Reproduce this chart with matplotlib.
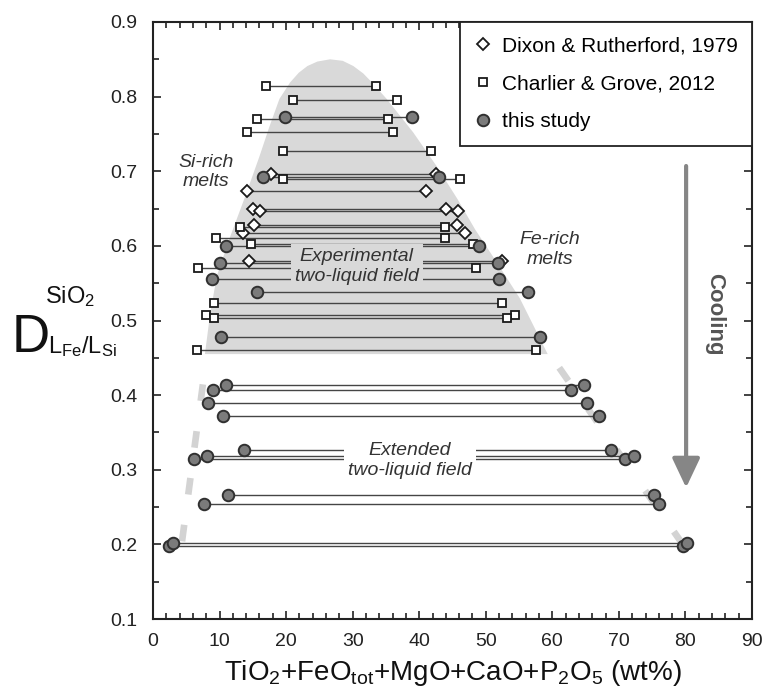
import matplotlib
matplotlib.use('Agg')
import matplotlib.pyplot as plt
from matplotlib.lines import Line2D
from matplotlib.patches import FancyArrowPatch, Polygon
from matplotlib.ticker import MultipleLocator

plt.rcParams['font.family'] = ['Liberation Sans', 'DejaVu Sans']
plt.rcParams['mathtext.fontset'] = 'custom'
plt.rcParams['mathtext.rm'] = 'Liberation Sans'
plt.rcParams['mathtext.it'] = 'Liberation Sans:italic'
plt.rcParams['mathtext.bf'] = 'Liberation Sans:bold'
plt.rcParams['lines.scale_dashes'] = False

# ---------------- data ----------------
# Dixon & Rutherford, 1979 (diamonds): Si-rich end, Fe-rich end, D value
dixon_si = [17.7, 14.1, 15.0, 16.1, 15.2, 13.5, 14.4]
dixon_fe = [42.5, 41.0, 44.0, 45.9, 45.7, 46.9, 52.5]
dixon_d = [0.696, 0.673, 0.650, 0.647, 0.628, 0.617, 0.580]

# Charlier & Grove, 2012 (squares)
charlier_si = [17.0, 21.0, 15.6, 14.1, 19.5, 19.5, 13.1, 9.4, 14.7, 6.8, 9.1, 8.0, 9.2, 6.6]
charlier_fe = [33.5, 36.7, 35.3, 36.1, 41.8, 46.1, 43.9, 43.9, 48.1, 48.6, 52.4, 54.4, 53.2, 57.5]
charlier_d = [0.814, 0.795, 0.770, 0.753, 0.727, 0.689, 0.625, 0.610, 0.603, 0.571, 0.523, 0.507, 0.503, 0.461]

# this study (circles)
study_si = [19.8, 16.6, 11.0, 10.1, 8.9, 15.6, 10.2, 11.0, 9.0, 8.3, 10.5, 6.1, 8.1, 13.7, 11.2, 7.7, 2.4, 3.0]
study_fe = [38.9, 42.9, 49.0, 51.8, 52.0, 56.4, 58.2, 64.8, 62.8, 65.2, 67.0, 70.9, 72.2, 68.8, 75.3, 76.0, 79.7, 80.2]
study_d = [0.773, 0.692, 0.600, 0.577, 0.555, 0.538, 0.478, 0.414, 0.407, 0.389, 0.372, 0.315, 0.318, 0.327, 0.266, 0.254, 0.198, 0.2025]

# experimental two-liquid field outline
field_x = [7.8, 8.6, 9.6, 11.5, 13.8, 16.0, 17.5, 19.0, 20.6, 21.9, 23.2, 24.7, 26.6,
           28.5, 30.1, 31.6, 32.9, 35.1, 39.1, 42.6, 45.8, 48.4, 51.5, 55.1, 59.3]
field_y = [0.455, 0.51, 0.56, 0.61, 0.665, 0.72, 0.76, 0.797, 0.819, 0.832, 0.841, 0.847,
           0.850, 0.848, 0.841, 0.831, 0.819, 0.797, 0.752, 0.707, 0.662, 0.622, 0.58,
           0.53, 0.455]

# extended field boundaries (dashed)
ext_left_x = [8.1, 4.3]
ext_left_y = [0.455, 0.20]
ext_right_x = [59.6, 79.6]
ext_right_y = [0.455, 0.20]

# cooling arrow
arrow_x = 80.1
arrow_top = 0.707
arrow_tip = 0.276

legend_labels = ['Dixon & Rutherford, 1979', 'Charlier & Grove, 2012', 'this study']

# ---------------- figure ----------------
W, H = 763, 698
fig = plt.figure(figsize=(W / 100, H / 100), dpi=100)
ax = fig.add_axes([153 / W, 1 - 619 / H, (752 - 153) / W, (619 - 22) / H])
ax.set_xlim(0, 90)
ax.set_ylim(0.1, 0.9)

field_color = '#d9d9d9'
ax.add_patch(Polygon(list(zip(field_x, field_y)), closed=True, fc=field_color,
                     ec='none', zorder=0))

ax.plot(ext_left_x, ext_left_y, color='#d3d3d3', lw=4.8, dash_capstyle='butt',
        linestyle=(12, (12, 22)), zorder=1)
ax.plot(ext_right_x, ext_right_y, color='#d3d3d3', lw=4.8, dash_capstyle='butt',
        linestyle=(24, (11.5, 24.5)), zorder=1)

line_col = '#454545'
ax.hlines(dixon_d, dixon_si, dixon_fe, colors=line_col, lw=1.0, zorder=2)
ax.hlines(charlier_d, charlier_si, charlier_fe, colors=line_col, lw=1.0, zorder=2)
ax.hlines(study_d, study_si, study_fe, colors=line_col, lw=1.0, zorder=2)

dia_kw = dict(ls='none', marker='D', ms=5.8, mfc='white', mec='#1a1a1a', mew=1.3)
sq_kw = dict(ls='none', marker='s', ms=6.2, mfc='white', mec='#1a1a1a', mew=1.3)
ci_kw = dict(ls='none', marker='o', ms=8.3, mfc='#7b7b7b', mec='#303030', mew=1.4)

ax.plot(dixon_si + dixon_fe, dixon_d + dixon_d, zorder=5, **dia_kw)
ax.plot(charlier_si + charlier_fe, charlier_d + charlier_d, zorder=5, **sq_kw)
ax.plot(study_si + study_fe, study_d + study_d, zorder=6, **ci_kw)

txt_col = '#333333'
ax.text(8.0, 0.699, 'Si-rich\nmelts', ha='center', va='center', fontsize=14,
        style='italic', color=txt_col, zorder=4)
ax.text(59.6, 0.595, 'Fe-rich\nmelts', ha='center', va='center', fontsize=14,
        style='italic', color=txt_col, zorder=4)
ax.text(30.6, 0.572, 'Experimental\ntwo-liquid field', ha='center', va='center',
        fontsize=14, style='italic', color=txt_col, zorder=4,
        bbox=dict(fc=field_color, ec='none', pad=3))
ax.text(38.6, 0.312, 'Extended\ntwo-liquid field', ha='center', va='center',
        fontsize=14, style='italic', color=txt_col, zorder=4,
        bbox=dict(fc='white', ec='none', pad=3))

ax.text(84.4, 0.508, 'Cooling', rotation=-90, ha='center', va='center', fontsize=16,
        fontweight='bold', color='#555555', zorder=4)
ax.add_patch(FancyArrowPatch((arrow_x, arrow_top), (arrow_x, arrow_tip),
                             arrowstyle='-|>,head_length=18,head_width=8.5',
                             mutation_scale=1, lw=3, color='#868686',
                             shrinkA=0, shrinkB=0, zorder=4))

handles = [Line2D([], [], **dia_kw), Line2D([], [], **sq_kw), Line2D([], [], **ci_kw)]
leg = ax.legend(handles, legend_labels, loc='upper right', bbox_to_anchor=(1, 1),
                borderaxespad=0, fancybox=False, edgecolor='#222222', framealpha=1,
                fontsize=15, handlelength=0.8, handletextpad=0.5,
                labelspacing=0.9, borderpad=0.7)
leg.get_frame().set_linewidth(1.3)
leg.set_zorder(10)

ax.xaxis.set_major_locator(MultipleLocator(10))
ax.xaxis.set_minor_locator(MultipleLocator(2))
ax.yaxis.set_major_locator(MultipleLocator(0.1))
ax.yaxis.set_minor_locator(MultipleLocator(0.05))
ax.tick_params(which='both', direction='in', top=True, right=True, width=1.2,
               color='#222222', labelsize=14, labelcolor='#222222')
ax.tick_params(which='major', length=6)
ax.tick_params(which='minor', length=4)
ax.tick_params(axis='x', pad=10)
ax.tick_params(axis='y', pad=11)
for s in ax.spines.values():
    s.set_linewidth(1.5)
    s.set_color('#222222')

ax.set_xlabel(r'TiO$_2$+FeO$_{\mathrm{tot}}$+MgO+CaO+P$_2$O$_5$ (wt%)', fontsize=20,
              labelpad=6, color='#111111')

# y label: D with superscript SiO2 and subscript L_Fe/L_Si
fig.text(12 / W, 1 - 352 / H, 'D', fontsize=38, va='baseline', ha='left',
         family=['Liberation Sans Narrow', 'Liberation Sans'], color='#111111')
fig.text(45 / W, 1 - 303 / H, r'SiO$_2$', fontsize=17, va='baseline', ha='left',
         color='#111111')
fig.text(48 / W, 1 - 353 / H, r'L$_{\mathrm{Fe}}$/L$_{\mathrm{Si}}$', fontsize=17,
         va='baseline', ha='left', color='#111111')

fig.savefig('out.png', dpi=100)
